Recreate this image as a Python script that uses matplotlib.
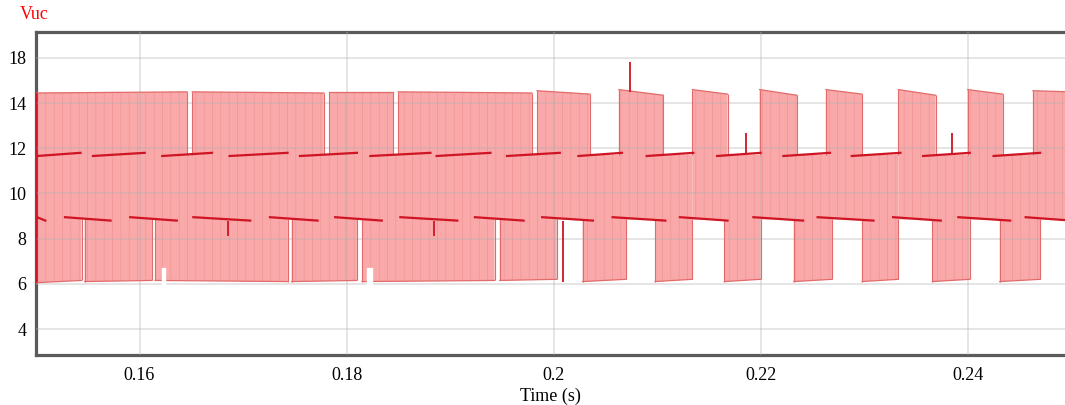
import matplotlib.pyplot as plt
import numpy as np

# block edges (s)
top_start = [0.1500, 0.1651, 0.1783, 0.1850, 0.1984, 0.2063, 0.2134, 0.2199, 0.2263, 0.2333, 0.2400, 0.2463]
top_end = [0.1646, 0.1778, 0.1845, 0.1979, 0.2035, 0.2106, 0.2168, 0.2235, 0.2298, 0.2369, 0.2434, 0.2500]
top_hi0 = [14.45, 14.5, 14.5, 14.5, 14.55, 14.6, 14.6, 14.6, 14.6, 14.6, 14.6, 14.55]
top_hi1 = [14.5, 14.45, 14.5, 14.45, 14.4, 14.35, 14.4, 14.35, 14.4, 14.35, 14.4, 14.5]

bot_start = [0.1500, 0.1547, 0.1615, 0.1747, 0.1815, 0.1948, 0.2028, 0.2098, 0.2165, 0.2232, 0.2298, 0.2366, 0.2431]
bot_end = [0.1544, 0.1612, 0.1743, 0.1810, 0.1943, 0.2003, 0.2070, 0.2134, 0.2200, 0.2269, 0.2333, 0.2402, 0.2470]
bot_lo0 = [6.05, 6.1, 6.15, 6.1, 6.1, 6.15, 6.1, 6.1, 6.1, 6.1, 6.1, 6.1, 6.1]
bot_lo1 = [6.15, 6.15, 6.1, 6.15, 6.15, 6.2, 6.2, 6.2, 6.2, 6.2, 6.2, 6.2, 6.2]

# dark envelope segments in the middle
umid_start = [0.1501, 0.1555, 0.1622, 0.1687, 0.1755, 0.1823, 0.1887, 0.1955, 0.2024, 0.2090, 0.2158, 0.2222, 0.2288, 0.2357, 0.2425]
umid_end = [0.1543, 0.1605, 0.1670, 0.1743, 0.1810, 0.1881, 0.1939, 0.2006, 0.2066, 0.2135, 0.2200, 0.2267, 0.2335, 0.2402, 0.2470]
lmid_start = [0.1501, 0.1528, 0.1591, 0.1652, 0.1726, 0.1789, 0.1852, 0.1924, 0.1989, 0.2057, 0.2122, 0.2193, 0.2255, 0.2328, 0.2391, 0.2456]
lmid_end = [0.1509, 0.1572, 0.1636, 0.1707, 0.1772, 0.1834, 0.1907, 0.1971, 0.2038, 0.2108, 0.2168, 0.2241, 0.2309, 0.2374, 0.2441, 0.2500]

# spikes: time, from, to
spike_t = [0.1685, 0.1884, 0.2009, 0.2074, 0.2186, 0.2385]
spike_y0 = [8.8, 8.8, 8.8, 14.5, 11.8, 11.8]
spike_y1 = [8.1, 8.1, 6.1, 15.8, 12.7, 12.7]

# small white notches in the lower band
notch_t0 = [0.1622, 0.1820]
notch_t1 = [0.1625, 0.1825]

yticks = [4, 6, 8, 10, 12, 14, 16]
ylabels = ['4', '6', '8', '10', '12', '14', '18']
xticks = [0.16, 0.18, 0.2, 0.22, 0.24]
xlabels = ['0.16', '0.18', '0.2', '0.22', '0.24']

plt.rcParams['font.family'] = ['Liberation Serif', 'DejaVu Serif']
plt.rcParams['hatch.linewidth'] = 0.5

fill_c = '#f9a9a9'
hatch_c = '#f09494'
edge_c = '#e26a6a'
mid_c = '#cf1423'

fig = plt.figure(figsize=(10.65, 4.05), dpi=100)
ax = fig.add_axes([0.0338, 0.1235, 0.9662, 0.7975])

upper_fill = 11.72
lower_fill = 8.85

for s, e, h0, h1 in zip(top_start, top_end, top_hi0, top_hi1):
    ax.fill_between([s, e], [lower_fill, lower_fill], [h0, h1], facecolor=fill_c,
                    edgecolor=hatch_c, linewidth=0, hatch='||', zorder=2)
    ax.plot([s, e], [h0, h1], color=edge_c, lw=0.9, zorder=3)
    ax.vlines([s, e], [upper_fill, upper_fill], [h0, h1], color=edge_c, lw=0.8, zorder=3)

for s, e, l0, l1 in zip(bot_start, bot_end, bot_lo0, bot_lo1):
    ax.fill_between([s, e], [l0, l1], [upper_fill, upper_fill], facecolor=fill_c,
                    edgecolor=hatch_c, linewidth=0, hatch='||', zorder=2)
    ax.plot([s, e], [l0, l1], color=edge_c, lw=0.9, zorder=3)
    ax.vlines([s, e], [l0, l1], [lower_fill, lower_fill], color=edge_c, lw=0.8, zorder=3)

for t0, t1 in zip(notch_t0, notch_t1):
    ax.fill_between([t0, t1], [6.0, 6.0], [6.7, 6.7], color='white', zorder=4)

for s, e in zip(umid_start, umid_end):
    ax.plot([s, e], [11.66, 11.8], color=mid_c, lw=1.6, zorder=5)
for s, e in zip(lmid_start, lmid_end):
    ax.plot([s, e], [8.95, 8.8], color=mid_c, lw=1.6, zorder=5)

ax.vlines(spike_t, spike_y0, spike_y1, color=mid_c, lw=1.3, zorder=5)
ax.vlines([top_start[0]], [6.05], [14.45], color=mid_c, lw=1.5, zorder=5)

ax.set_xlim(0.15, 0.2494)
ax.set_ylim(2.85, 17.15)
ax.set_xticks(xticks)
ax.set_xticklabels(xlabels)
ax.set_yticks(yticks)
ax.set_yticklabels(ylabels)
ax.tick_params(length=0, labelsize=13)
ax.tick_params(axis='x', pad=9)
ax.tick_params(axis='y', pad=7)
ax.grid(True, color='#b0b0b0', alpha=0.35, lw=1.3, zorder=6)
ax.set_axisbelow(False)

for side in ['left', 'bottom', 'top']:
    ax.spines[side].set_color('#5a5a5a')
    ax.spines[side].set_linewidth(2.3)
ax.spines['right'].set_visible(False)

ax.set_xlabel('Time (s)', fontsize=13, labelpad=2)
fig.text(0.019, 0.965, 'Vuc', color='red', fontsize=13, ha='left', va='center')

fig.savefig('out.png', dpi=100)
